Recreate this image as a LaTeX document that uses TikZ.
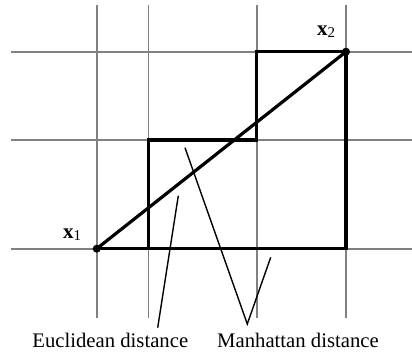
\documentclass[tikz,border=0pt]{standalone}
\usepackage{fontspec}
\setmainfont{Liberation Serif}
\begin{document}
\begin{tikzpicture}[x=1pt,y=-1pt,
  grid/.style={draw=black!50,line width=1.6pt},
  thick path/.style={draw=black,line width=3.2pt,line cap=butt,line join=miter},
  pointer/.style={draw=black,line width=1.4pt},
  dot/.style={circle,fill=black,inner sep=0pt,minimum size=8pt},
  lbl/.style={font=\fontsize{20.7}{24}\selectfont,inner sep=0pt},
  ptlbl/.style={font=\fontsize{21}{24}\selectfont\bfseries,inner sep=0pt}]
\useasboundingbox (0,0) rectangle (412,354);
% grid
\foreach \xx in {96.7,148.3,256.7,346} \draw[grid] (\xx,5) -- (\xx,318);
\foreach \yy in {51.7,140,248.7} \draw[grid] (11,\yy) -- (412,\yy);
% points
\coordinate (x1) at (96.7,248.7);
\coordinate (x2) at (346,51.7);
\coordinate (a) at (148.3,248.7);
\coordinate (b) at (148.3,140);
\coordinate (c) at (256.7,140);
\coordinate (d) at (256.7,51.7);
\coordinate (e) at (346,248.7);
% manhattan paths
\draw[thick path] (x1) -- (e) -- (x2);
\draw[thick path] (a) -- (b) -- (c) -- (d) -- (x2);
% euclidean
\draw[thick path] (x1) -- (x2);
\node[dot] (p1) at (x1) {};
\node[dot] (p2) at (x2) {};
\node[ptlbl,anchor=base west] (l1) at (63,238) {x\raisebox{-0.28ex}{\fontsize{15}{16}\mdseries 1}};
\node[ptlbl,anchor=base west] (l2) at (317,35) {x\raisebox{-0.28ex}{\fontsize{15}{16}\mdseries 2}};
% labels
\node[lbl,anchor=base] (eu) at (110.3,347) {Euclidean distance};
\node[lbl,anchor=base] (mh) at (298,347) {Manhattan distance};
% pointers
\coordinate (eu1) at (178.3,195.7);
\coordinate (eu2) at (157.7,327.7);
\coordinate (mh1) at (185,147.7);
\coordinate (mh2) at (247.3,324);
\coordinate (mh3) at (270.7,257.3);
\draw[pointer] (eu1) -- (eu2);
\draw[pointer] (mh1) -- (mh2) -- (mh3);
\end{tikzpicture}
\end{document}
